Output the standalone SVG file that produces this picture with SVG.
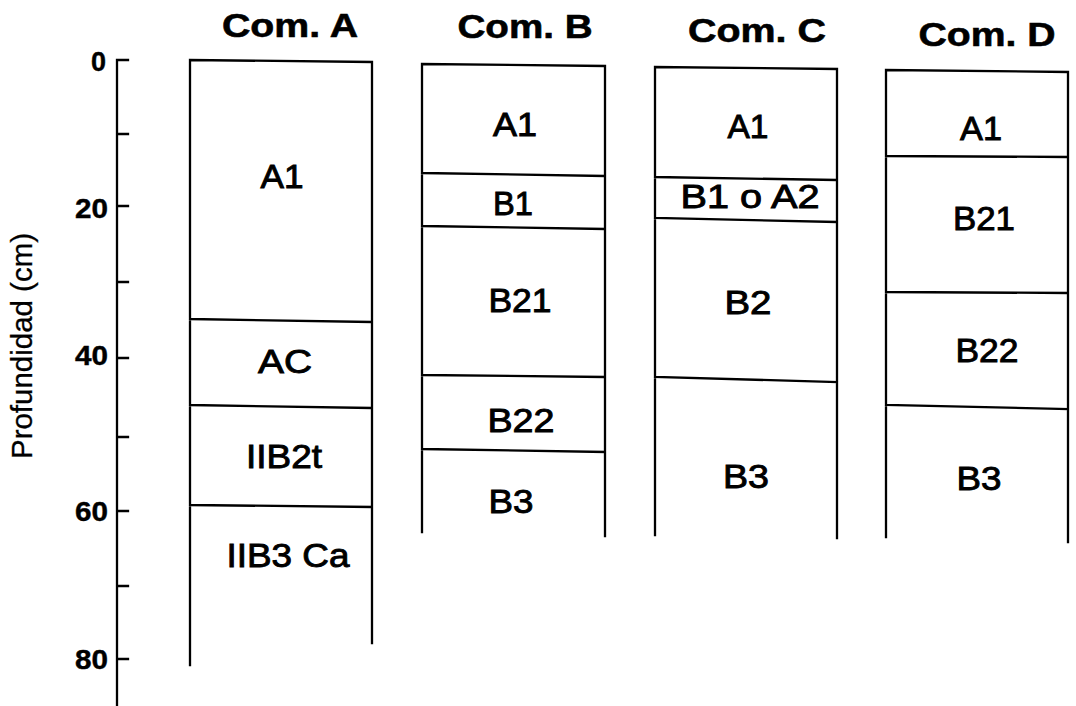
<svg xmlns="http://www.w3.org/2000/svg" width="1076" height="706" viewBox="0 0 1076 706">
<style>
.ln{stroke:#000;stroke-width:2.3;fill:none;stroke-linecap:square}
.hd{font-family:"Liberation Sans",Arial,sans-serif;font-weight:bold;font-size:34px;text-anchor:middle;fill:#000;stroke:#000;stroke-width:0.6}
.lb{font-family:"Liberation Sans",Arial,sans-serif;font-size:33px;text-anchor:middle;fill:#000;stroke:#000;stroke-width:0.9}
.tk{font-family:"Liberation Sans",Arial,sans-serif;font-weight:bold;font-size:27px;text-anchor:end;fill:#000;stroke:#000;stroke-width:0.4}
.ax{font-family:"Liberation Sans",Arial,sans-serif;font-size:30px;text-anchor:middle;fill:#000;stroke:#000;stroke-width:0.3}
</style>
<rect width="1076" height="706" fill="#fff"/>
<g id="axis">
<path class="ln" d="M117,60 V706 M117,60 H128 M117,134 H128 M117,206 H128 M117,282 H128 M117,358 H128 M117,437 H128 M117,511 H128 M117,586 H128 M117,659 H128"/>
<text class="tk" x="106" y="71">0</text>
<text class="tk" x="108" y="218" textLength="33" lengthAdjust="spacingAndGlyphs">20</text>
<text class="tk" x="108" y="365" textLength="33" lengthAdjust="spacingAndGlyphs">40</text>
<text class="tk" x="108" y="521" textLength="33" lengthAdjust="spacingAndGlyphs">60</text>
<text class="tk" x="108" y="669" textLength="33" lengthAdjust="spacingAndGlyphs">80</text>
<text class="ax" transform="translate(32,346) rotate(-90)" textLength="226" lengthAdjust="spacingAndGlyphs">Profundidad (cm)</text>
</g>
<g id="comA">
<text class="hd" x="290" y="37" textLength="136" lengthAdjust="spacingAndGlyphs">Com. A</text>
<path class="ln" d="M190,665 V60 L372,62 V643 M190,319 L372,322 M190,405 L372,408 M190,505 L372,507"/>
<text class="lb" x="282" y="188" textLength="43" lengthAdjust="spacingAndGlyphs">A1</text>
<text class="lb" x="285" y="373" textLength="54" lengthAdjust="spacingAndGlyphs">AC</text>
<text class="lb" x="284" y="468" textLength="76" lengthAdjust="spacingAndGlyphs">IIB2t</text>
<text class="lb" x="288" y="567" textLength="123" lengthAdjust="spacingAndGlyphs">IIB3 Ca</text>
</g>
<g id="comB">
<text class="hd" x="525" y="38" textLength="135" lengthAdjust="spacingAndGlyphs">Com. B</text>
<path class="ln" d="M422,532 V64 L605,66 V536 M422,173 L605,176 M422,226 L605,229 M422,375 L605,377 M422,449 L605,452"/>
<text class="lb" x="515" y="136" textLength="44" lengthAdjust="spacingAndGlyphs">A1</text>
<text class="lb" x="513" y="215" textLength="40" lengthAdjust="spacingAndGlyphs">B1</text>
<text class="lb" x="520" y="312" textLength="63" lengthAdjust="spacingAndGlyphs">B21</text>
<text class="lb" x="521" y="432" textLength="67" lengthAdjust="spacingAndGlyphs">B22</text>
<text class="lb" x="511" y="513" textLength="45" lengthAdjust="spacingAndGlyphs">B3</text>
</g>
<g id="comC">
<text class="hd" x="757" y="42" textLength="138" lengthAdjust="spacingAndGlyphs">Com. C</text>
<path class="ln" d="M655,535 V67 L837,69 V538 M655,177 L837,180 M655,218 L837,222 M655,377 L837,382"/>
<text class="lb" x="748" y="138" textLength="41" lengthAdjust="spacingAndGlyphs">A1</text>
<text class="lb" x="750" y="208" textLength="139" lengthAdjust="spacingAndGlyphs">B1 o A2</text>
<text class="lb" x="748" y="314" textLength="47" lengthAdjust="spacingAndGlyphs">B2</text>
<text class="lb" x="746" y="488" textLength="46" lengthAdjust="spacingAndGlyphs">B3</text>
</g>
<g id="comD">
<text class="hd" x="987" y="46" textLength="137" lengthAdjust="spacingAndGlyphs">Com. D</text>
<path class="ln" d="M886,537 V70 L1068,72 V542 M886,156 L1068,157 M886,292 L1068,293 M886,405 L1068,409"/>
<text class="lb" x="981" y="140" textLength="42" lengthAdjust="spacingAndGlyphs">A1</text>
<text class="lb" x="984" y="230" textLength="62" lengthAdjust="spacingAndGlyphs">B21</text>
<text class="lb" x="987" y="362" textLength="63" lengthAdjust="spacingAndGlyphs">B22</text>
<text class="lb" x="979" y="490" textLength="45" lengthAdjust="spacingAndGlyphs">B3</text>
</g>
</svg>
